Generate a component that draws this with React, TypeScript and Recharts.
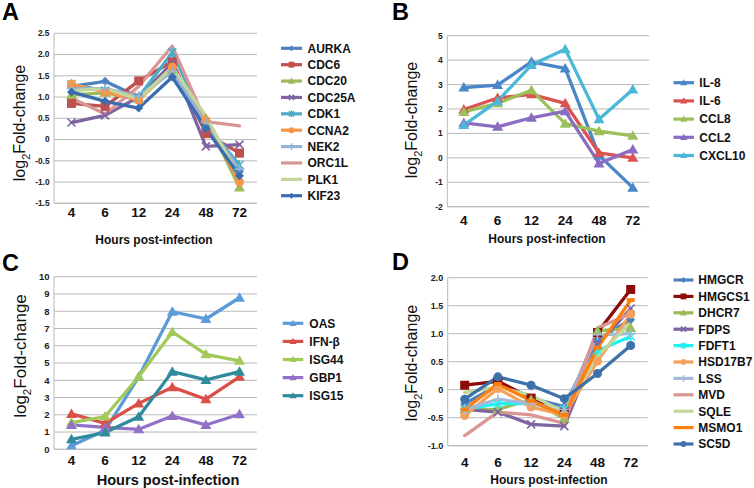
import React from 'react';
import { LineChart, Line, XAxis, YAxis, CartesianGrid } from 'recharts';

const FONT = '"Liberation Sans", Arial, Helvetica, sans-serif';

// ---------- categories ----------
const hours = ['4', '6', '12', '24', '48', '72'];

// ---------- Panel A values ----------
const aurka = [1.25, 1.37, 1.0, 1.75, 0.3, -0.75];
const cdc6 = [0.85, 0.78, 1.38, 1.83, 0.14, -0.32];
const cdc20 = [1.05, 1.1, 0.95, 1.65, 0.5, -1.13];
const cdc25a = [0.4, 0.57, 1.0, 1.8, -0.16, -0.12];
const cdk1 = [1.3, 1.15, 1.0, 2.05, 0.35, -0.6];
const ccna2 = [1.3, 1.12, 0.93, 1.7, 0.45, -1.0];
const nek2 = [1.2, 1.2, 1.02, 1.6, 0.4, -0.7];
const orc1l = [0.98, 0.6, 1.25, 2.2, 0.42, 0.32];
const plk1 = [1.15, 1.2, 0.95, 1.7, 0.55, -0.9];
const kif23 = [1.12, 0.9, 0.74, 1.47, 0.26, -0.85];
const ticksA = [-1.5, -1.0, -0.5, 0, 0.5, 1.0, 1.5, 2.0, 2.5];

// ---------- Panel B values ----------
const il8 = [2.88, 2.98, 3.93, 3.66, 0.1, -1.22];
const il6 = [1.98, 2.45, 2.6, 2.23, 0.2, 0.0];
const ccl8 = [1.88, 2.23, 2.77, 1.4, 1.09, 0.9];
const ccl2 = [1.43, 1.27, 1.64, 1.91, -0.23, 0.34];
const cxcl10 = [1.34, 2.32, 3.8, 4.45, 1.58, 2.8];
const ticksB = [-2, -1, 0, 1, 2, 3, 4, 5];

// ---------- Panel C values ----------
const oas = [0.2, 1.1, 4.2, 7.97, 7.55, 8.78];
const ifnb = [2.05, 1.5, 2.66, 3.6, 2.9, 4.2];
const isg44 = [1.55, 1.9, 4.2, 6.8, 5.5, 5.13];
const gbp1 = [1.41, 1.27, 1.16, 1.93, 1.41, 2.03];
const isg15 = [0.58, 0.97, 1.89, 4.5, 4.02, 4.5];
const ticksC = [0, 1, 2, 3, 4, 5, 6, 7, 8, 9, 10];

// ---------- Panel D values ----------
const hmgcr = [-0.25, 0.08, -0.15, -0.3, 0.9, 1.25];
const hmgcs1 = [0.08, 0.15, -0.15, -0.4, 1.02, 1.79];
const dhcr7 = [-0.35, -0.35, -0.18, -0.52, 1.05, 1.1];
const fdps = [-0.35, -0.4, -0.62, -0.65, 0.8, 1.45];
const fdft1 = [-0.35, -0.25, -0.25, -0.35, 0.7, 0.95];
const hsd17b7 = [-0.46, 0.02, -0.31, -0.45, 0.51, 1.35];
const lss = [-0.35, -0.17, -0.25, -0.35, 0.98, 1.0];
const mvd = [-0.82, -0.4, -0.45, -0.6, 1.1, 1.36];
const sqle = [-0.05, 0.05, -0.1, -0.4, 0.6, 1.2];
const msmo1 = [-0.35, 0.1, -0.2, -0.45, 0.75, 1.6];
const sc5d = [-0.17, 0.23, 0.08, -0.16, 0.29, 0.79];
const ticksD = [-1.0, -0.5, 0, 0.5, 1.0, 1.5, 2.0];

type Series = { name: string; values: number[]; color: string; marker: string };

const seriesA: Series[] = [
  { name: 'AURKA', values: aurka, color: '#4F81BD', marker: 'diamond' },
  { name: 'CDC6', values: cdc6, color: '#C0504D', marker: 'square' },
  { name: 'CDC20', values: cdc20, color: '#9BBB59', marker: 'triangle' },
  { name: 'CDC25A', values: cdc25a, color: '#8064A2', marker: 'x' },
  { name: 'CDK1', values: cdk1, color: '#4BACC6', marker: 'star' },
  { name: 'CCNA2', values: ccna2, color: '#F79646', marker: 'circle' },
  { name: 'NEK2', values: nek2, color: '#95B3D7', marker: 'plus' },
  { name: 'ORC1L', values: orc1l, color: '#D99694', marker: 'none' },
  { name: 'PLK1', values: plk1, color: '#C3D69B', marker: 'none' },
  { name: 'KIF23', values: kif23, color: '#3A6DB0', marker: 'diamond' },
];

const seriesB: Series[] = [
  { name: 'IL-8', values: il8, color: '#4A86C8', marker: 'triangle' },
  { name: 'IL-6', values: il6, color: '#D9534F', marker: 'triangle' },
  { name: 'CCL8', values: ccl8, color: '#9BC05A', marker: 'triangle' },
  { name: 'CCL2', values: ccl2, color: '#8A6CC0', marker: 'triangle' },
  { name: 'CXCL10', values: cxcl10, color: '#4BB8D8', marker: 'triangle' },
];

const seriesC: Series[] = [
  { name: 'OAS', values: oas, color: '#5A9BD8', marker: 'triangle' },
  { name: 'IFN-β', values: ifnb, color: '#DA4F48', marker: 'triangle' },
  { name: 'ISG44', values: isg44, color: '#A2CA5A', marker: 'triangle' },
  { name: 'GBP1', values: gbp1, color: '#9272C8', marker: 'triangle' },
  { name: 'ISG15', values: isg15, color: '#2F8A9C', marker: 'triangle' },
];

const seriesD: Series[] = [
  { name: 'HMGCR', values: hmgcr, color: '#4F81BD', marker: 'diamond' },
  { name: 'HMGCS1', values: hmgcs1, color: '#8E0B0B', marker: 'square' },
  { name: 'DHCR7', values: dhcr7, color: '#9BBB59', marker: 'triangle' },
  { name: 'FDPS', values: fdps, color: '#8064A2', marker: 'x' },
  { name: 'FDFT1', values: fdft1, color: '#1EF2F2', marker: 'star' },
  { name: 'HSD17B7', values: hsd17b7, color: '#F6A15A', marker: 'circle' },
  { name: 'LSS', values: lss, color: '#A3B9DC', marker: 'plus' },
  { name: 'MVD', values: mvd, color: '#D99694', marker: 'none' },
  { name: 'SQLE', values: sqle, color: '#C3D69B', marker: 'none' },
  { name: 'MSMO1', values: msmo1, color: '#FF7F0E', marker: 'dash' },
  { name: 'SC5D', values: sc5d, color: '#3E70AA', marker: 'circle' },
];

function Marker({ shape, color, cx, cy, s = 1 }: any) {
  if (cx == null || cy == null) return <g />;
  const k = s;
  switch (shape) {
    case 'diamond':
      return <polygon points={`${cx},${cy - 4.5 * k} ${cx + 4.5 * k},${cy} ${cx},${cy + 4.5 * k} ${cx - 4.5 * k},${cy}`} fill={color} />;
    case 'square':
      return <rect x={cx - 4.5 * k} y={cy - 4.5 * k} width={9 * k} height={9 * k} fill={color} />;
    case 'triangle':
      return <polygon points={`${cx},${cy - 5.5 * k} ${cx + 5.5 * k},${cy + 4 * k} ${cx - 5.5 * k},${cy + 4 * k}`} fill={color} />;
    case 'circle':
      return <circle cx={cx} cy={cy} r={4.5 * k} fill={color} />;
    case 'x':
      return (
        <g stroke={color} strokeWidth={1.6}>
          <line x1={cx - 4 * k} y1={cy - 4 * k} x2={cx + 4 * k} y2={cy + 4 * k} />
          <line x1={cx - 4 * k} y1={cy + 4 * k} x2={cx + 4 * k} y2={cy - 4 * k} />
        </g>
      );
    case 'star':
      return (
        <g stroke={color} strokeWidth={1.6}>
          <line x1={cx - 4 * k} y1={cy - 4 * k} x2={cx + 4 * k} y2={cy + 4 * k} />
          <line x1={cx - 4 * k} y1={cy + 4 * k} x2={cx + 4 * k} y2={cy - 4 * k} />
          <line x1={cx} y1={cy - 5 * k} x2={cx} y2={cy + 5 * k} />
        </g>
      );
    case 'plus':
      return (
        <g stroke={color} strokeWidth={1.6}>
          <line x1={cx - 5 * k} y1={cy} x2={cx + 5 * k} y2={cy} />
          <line x1={cx} y1={cy - 5 * k} x2={cx} y2={cy + 5 * k} />
        </g>
      );
    case 'dash':
      return <rect x={cx - 4 * k} y={cy - 2 * k} width={8 * k} height={4 * k} fill={color} />;
    default:
      return <g />;
  }
}

type PanelCfg = {
  left: number;
  top: number;
  width: number;
  height: number;
  l: number;
  r: number;
  t: number;
  b: number;
  domain: [number, number];
  ticks: number[];
  pad: number;
  tickMargin: number;
  yFont: number;
  series: Series[];
  fmt: (v: number) => string;
};

const fmtHalf = (v: number) => (v === 0 ? '0' : v.toFixed(1));
const fmtInt = (v: number) => String(v);

function Panel({ cfg }: { cfg: PanelCfg }) {
  const yw = 30;
  const xh = 30;
  const margin = { left: cfg.l - yw, right: cfg.width - cfg.r, top: cfg.t, bottom: cfg.height - cfg.b - xh };
  const data = hours.map((h, i) => {
    const row: any = { h };
    cfg.series.forEach((s) => {
      row[s.name] = s.values[i];
    });
    return row;
  });
  return (
    <div style={{ position: 'absolute', left: cfg.left, top: cfg.top }}>
      <LineChart width={cfg.width} height={cfg.height} data={data} margin={margin}>
        <CartesianGrid vertical={false} stroke="#b9b9b9" strokeWidth={1} />
        <XAxis
          dataKey="h"
          height={xh}
          padding={{ left: cfg.pad, right: cfg.pad }}
          tickLine={false}
          tickSize={0}
          tickMargin={cfg.tickMargin}
          interval={0}
          axisLine={{ stroke: '#b9b9b9' }}
          tick={{ fontSize: 13.5, fontWeight: 'bold', fill: '#111', fontFamily: FONT }}
        />
        <YAxis
          width={yw}
          type="number"
          domain={cfg.domain}
          ticks={cfg.ticks}
          interval={0}
          allowDataOverflow
          tickFormatter={cfg.fmt}
          tickLine={false}
          tickSize={0}
          tickMargin={4.5}
          axisLine={{ stroke: '#b9b9b9' }}
          tick={{ fontSize: cfg.yFont, fontWeight: 'bold', fill: '#222', fontFamily: FONT }}
        />
        {cfg.series.map((s) => (
          <Line
            key={s.name}
            dataKey={s.name}
            type="linear"
            stroke={s.color}
            strokeWidth={3.3}
            strokeLinejoin="round"
            strokeLinecap="round"
            isAnimationActive={false}
            dot={(p: any) => (
              <Marker key={`${s.name}-${p.index}`} shape={s.marker} color={s.color} cx={p.cx} cy={p.cy} />
            )}
            activeDot={false}
          />
        ))}
      </LineChart>
    </div>
  );
}

const panels: PanelCfg[] = [
  { left: 0, top: 0, width: 260, height: 245, l: 54, r: 257, t: 33.3, b: 203.3, domain: [-1.5, 2.5], ticks: ticksA, pad: 17.5, tickMargin: 4.2, yFont: 8.3, series: seriesA, fmt: fmtHalf },
  { left: 380, top: 0, width: 280, height: 245, l: 67.3, r: 269.3, t: 35.7, b: 206.7, domain: [-2, 5], ticks: ticksB, pad: 16.5, tickMargin: 9, yFont: 8.5, series: seriesB, fmt: fmtInt },
  { left: 0, top: 245, width: 260, height: 243, l: 54, r: 257, t: 31.7, b: 204.3, domain: [0, 10], ticks: ticksC, pad: 17.5, tickMargin: 6.5, yFont: 9.5, series: seriesC, fmt: fmtInt },
  { left: 380, top: 245, width: 280, height: 243, l: 67.7, r: 267.7, t: 32.7, b: 200.7, domain: [-1, 2], ticks: ticksD, pad: 17, tickMargin: 11.5, yFont: 9, series: seriesD, fmt: fmtHalf },
];

type LegendCfg = { series: Series[]; x1: number; x2: number; tx: number; y0: number; step: number };
const legends: LegendCfg[] = [
  { series: seriesA, x1: 281, x2: 302, tx: 307.5, y0: 48.3, step: 16.38 },
  { series: seriesB, x1: 673.5, x2: 694, tx: 699.3, y0: 82.7, step: 18.2 },
  { series: seriesC, x1: 282.7, x2: 303.3, tx: 309.3, y0: 323.3, step: 18.1 },
  { series: seriesD, x1: 673.5, x2: 693.5, tx: 698.3, y0: 280, step: 16.4 },
];

const titles = [
  { x: 154, y: 244, size: 12, text: 'Hours post-infection' },
  { x: 547, y: 242.5, size: 12, text: 'Hours post-infection' },
  { x: 168, y: 485, size: 14.6, text: 'Hours post-infection' },
  { x: 549, y: 484.3, size: 12, text: 'Hours post-infection' },
];

const yLabels = [
  { x: 25, y: 123, size: 16 },
  { x: 417, y: 120, size: 16 },
  { x: 26, y: 356, size: 17 },
  { x: 417, y: 363, size: 16 },
];

const letters = [
  { x: 2, y: 20, t: 'A' },
  { x: 392, y: 20, t: 'B' },
  { x: 2, y: 271, t: 'C' },
  { x: 392, y: 270, t: 'D' },
];

export default function App() {
  return (
    <div style={{ position: 'absolute', left: 0, top: 0, width: 754, height: 488, background: '#fff', overflow: 'hidden', fontFamily: FONT }}>
      {panels.map((p, i) => (
        <Panel key={i} cfg={p} />
      ))}
      <svg width={754} height={488} style={{ position: 'absolute', left: 0, top: 0, pointerEvents: 'none' }}>
        {letters.map((l) => (
          <text key={l.t} x={l.x} y={l.y} fontSize={23.5} fontWeight="bold" fontFamily={FONT} fill="#000">
            {l.t}
          </text>
        ))}
        {titles.map((t, i) => (
          <text key={i} x={t.x} y={t.y} fontSize={t.size} fontWeight="bold" textAnchor="middle" fontFamily={FONT} fill="#111">
            {t.text}
          </text>
        ))}
        {yLabels.map((t, i) => (
          <text key={i} transform={`translate(${t.x},${t.y}) rotate(-90)`} fontSize={t.size} textAnchor="middle" fontFamily={FONT} fill="#111">
            <tspan>log</tspan>
            <tspan fontSize={t.size * 0.68} dy={t.size * 0.3}>2</tspan>
            <tspan dy={-t.size * 0.3}>Fold-change</tspan>
          </text>
        ))}
        {legends.map((lg, i) => (
          <g key={i}>
            {lg.series.map((s, j) => {
              const y = lg.y0 + j * lg.step;
              return (
                <g key={s.name}>
                  <line x1={lg.x1} y1={y} x2={lg.x2} y2={y} stroke={s.color} strokeWidth={3.2} />
                  <Marker shape={s.marker} color={s.color} cx={(lg.x1 + lg.x2) / 2} cy={y} s={0.65} />
                  <text x={lg.tx} y={y} dy="0.36em" fontSize={12} fontWeight="bold" fontFamily={FONT} fill="#111">
                    {s.name}
                  </text>
                </g>
              );
            })}
          </g>
        ))}
      </svg>
    </div>
  );
}
